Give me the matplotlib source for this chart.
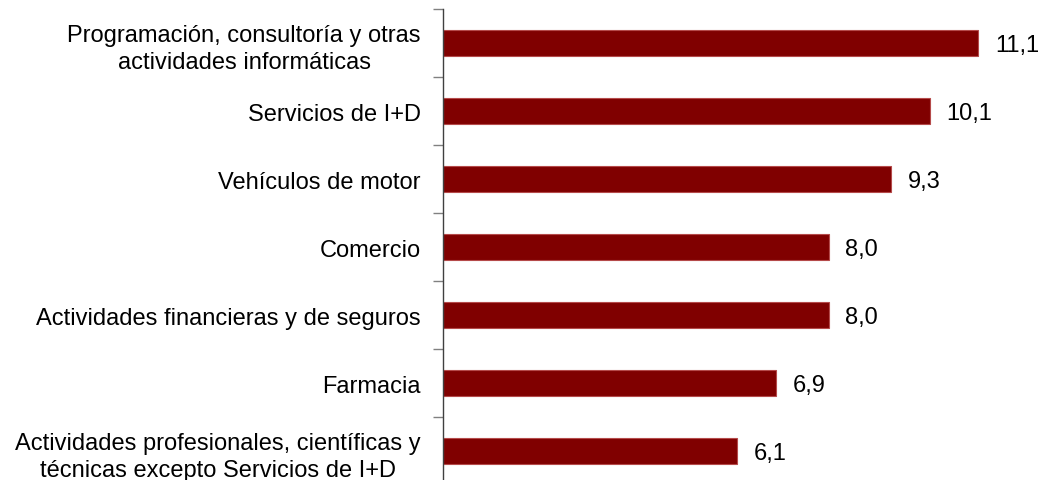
'''
Horizontal bar chart of sector values (Spanish labels).
'''
import matplotlib.pyplot as plt
import numpy as np

plt.rcParams['font.family'] = ['Liberation Sans', 'DejaVu Sans']

categories = ['Programación, consultoría y otras\nactividades informáticas',
              'Servicios de I+D',
              'Vehículos de motor',
              'Comercio',
              'Actividades financieras y de seguros',
              'Farmacia',
              'Actividades profesionales, científicas y\ntécnicas excepto Servicios de I+D']
values = [11.1, 10.1, 9.3, 8.0, 8.0, 6.9, 6.1]
value_labels = ['11,1', '10,1', '9,3', '8,0', '8,0', '6,9', '6,1']

fig = plt.figure(figsize=(10.4, 4.81), dpi=100)
ax = fig.add_axes([0.426, -0.0104, 0.556, 0.9896])

pos = np.arange(len(categories))
ax.barh(pos, values, height=0.37, color='#800000', edgecolor='#b54a4a', linewidth=0.8)

for p, v, lab in zip(pos, values, value_labels):
    ax.text(v + 0.35, p + 0.03, lab, va='center', ha='left', fontsize=17)

ax.set_xlim(0, 12)
ax.set_ylim(len(categories) - 0.5, -0.5)
ax.set_yticks(pos)
ax.set_yticklabels(categories, fontsize=17, multialignment='center', linespacing=1.3)
ax.tick_params(axis='y', which='major', length=0, pad=16)
ax.set_yticks(np.arange(-0.5, len(categories), 1), minor=True)
ax.tick_params(axis='y', which='minor', length=7, color='#808080', width=1)
ax.set_xticks([])
for side in ['top', 'right', 'bottom']:
    ax.spines[side].set_visible(False)
ax.spines['left'].set_color('#404040')
ax.spines['left'].set_linewidth(1)

plt.savefig('out.png', dpi=100)
